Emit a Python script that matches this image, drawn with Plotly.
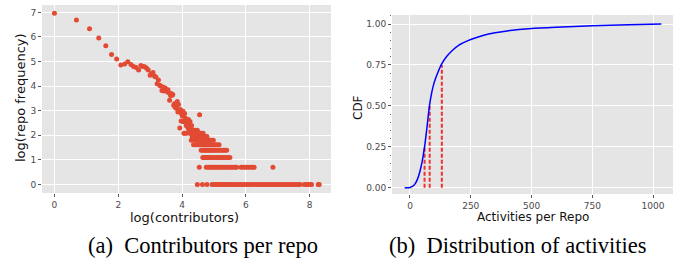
import plotly.graph_objects as go

# ---------------- data: panel (a) ----------------
# upper, distinct points (log(contributors), log(repo frequency))
top_x = [0.00, 0.69, 1.10, 1.39, 1.61, 1.79, 1.95, 2.08, 2.20, 2.30, 2.40, 2.48, 2.56, 2.64,
         2.71, 2.77, 2.83, 2.89, 2.94, 3.00, 3.04, 3.09, 3.14, 3.18, 3.22, 3.26, 3.30, 3.33,
         3.37, 3.40, 3.43, 3.47, 3.50, 3.53, 3.56, 3.58, 3.61, 3.64, 3.66, 3.69, 3.71, 3.74,
         3.76, 3.78, 3.81, 3.83, 3.85, 3.87, 3.89, 3.91, 3.93, 3.95, 3.97, 3.99, 4.01, 4.03,
         4.04, 4.06, 4.08, 4.10, 4.11, 4.13, 4.14, 4.16, 4.17, 4.19, 4.20, 4.22, 4.23, 4.25,
         4.26, 4.28, 4.30, 4.33, 4.41, 4.48, 4.55]
top_y = [6.96, 6.69, 6.33, 5.96, 5.64, 5.29, 5.10, 4.86, 4.90, 4.99, 4.88, 4.80, 4.76, 4.65,
         4.84, 4.80, 4.79, 4.73, 4.65, 4.44, 4.50, 4.55, 4.40, 4.37, 4.10, 4.25, 4.03, 4.00,
         3.82, 3.96, 3.80, 3.92, 3.87, 3.78, 3.85, 3.73, 3.42, 3.62, 3.70, 3.63, 3.66, 3.22,
         3.28, 3.15, 3.10, 3.18, 3.37, 2.95, 3.25, 2.97, 2.30, 3.05, 2.58, 2.85, 2.78, 2.98,
         2.55, 2.08, 2.88, 2.70, 2.64, 2.40, 2.08, 2.56, 2.48, 2.30, 2.64, 2.40, 2.20, 2.56,
         2.08, 2.30, 2.40, 2.20, 2.20, 2.20, 2.83]

# lower rows: repo frequency levels and the contributor values read on each row
row_y8 = 2.079
row_x8 = [4.09, 4.26, 4.34, 4.38, 4.44, 4.51, 4.56, 4.60, 4.66]
row_y7 = 1.946
row_x7 = [4.32, 4.37, 4.42, 4.47, 4.53, 4.58, 4.62, 4.67, 4.72, 4.78]
row_y6 = 1.792
row_x6 = [4.29, 4.39, 4.45, 4.52, 4.56, 4.60, 4.65, 4.70, 4.74, 4.79, 4.84, 4.88, 4.92, 4.98]
row_y5 = 1.609
row_x5 = [4.36, 4.43, 4.50, 4.55, 4.62, 4.66, 4.70, 4.75, 4.80, 4.85, 4.90, 4.95, 5.00,
          5.05, 5.10, 5.16]
row_y4 = 1.386
row_x4 = [4.60, 4.65, 4.70, 4.74, 4.78, 4.82, 4.87, 4.91, 4.95, 5.00, 5.05, 5.10, 5.15,
          5.20, 5.25, 5.30, 5.35, 5.40]
row_y3 = 1.099
row_x3 = [4.65, 4.70, 4.74, 4.78, 4.83, 4.88, 4.93, 4.98, 5.05, 5.10, 5.15, 5.20, 5.25,
          5.30, 5.35, 5.40, 5.45, 5.50]
row_y2 = 0.693
row_x2 = [4.54, 4.76, 4.82, 4.88, 4.94, 5.00, 5.06, 5.12, 5.18, 5.24, 5.30, 5.36, 5.42,
          5.48, 5.54, 5.60, 5.66, 5.71, 5.85, 5.92, 5.99, 6.06, 6.13, 6.20, 6.26, 6.85]
row_y1 = 0.0
row_x1 = [4.48, 4.64, 4.78, 4.94, 5.00, 5.06, 5.12, 5.18, 5.24, 5.30, 5.36, 5.42, 5.48,
          5.55, 5.62, 5.69, 5.76, 5.83, 5.90, 5.97, 6.04, 6.11, 6.18, 6.25, 6.32, 6.39,
          6.46, 6.53, 6.60, 6.67, 6.74, 6.81, 6.88, 6.95, 7.02, 7.09, 7.16, 7.23, 7.30,
          7.37, 7.44, 7.51, 7.58, 7.65, 7.70, 7.83, 7.90, 7.96, 8.02, 8.06, 8.27, 8.30]

# ---------------- data: panel (b) ----------------
act_x = [-22, -10, 0, 10, 20, 30, 40, 50, 60, 70, 80, 90, 100, 115, 130, 150, 175, 200,
         250, 300, 350, 400, 500, 600, 750, 900, 1034]
cdf_y = [0, 0, 0.002, 0.008, 0.022, 0.05, 0.095, 0.16, 0.25, 0.37, 0.5, 0.585, 0.645,
         0.705, 0.755, 0.8, 0.84, 0.87, 0.905, 0.93, 0.947, 0.958, 0.972, 0.98, 0.99,
         0.995, 1.0]
quart_x = [60, 81, 131]
quart_y = [0.25, 0.5, 0.75]

left_xticks = [0, 2, 4, 6, 8]
left_yticks = [0, 1, 2, 3, 4, 5, 6, 7]
right_xticks = [0, 250, 500, 750, 1000]
right_yticks = [0, 0.25, 0.5, 0.75, 1.0]
right_ytext = ["0.00", "0.25", "0.50", "0.75", "1.00"]

# ---------------- build ----------------
W, H = 680, 262
RED = "#E24A33"

sx, sy = list(top_x), list(top_y)
for rx, ry in [(row_x8, row_y8), (row_x7, row_y7), (row_x6, row_y6), (row_x5, row_y5),
               (row_x4, row_y4), (row_x3, row_y3), (row_x2, row_y2), (row_x1, row_y1)]:
    sx += rx
    sy += [ry] * len(rx)

fig = go.Figure()
fig.add_trace(go.Scatter(x=sx, y=sy, mode="markers", xaxis="x", yaxis="y",
                         marker=dict(color=RED, size=5, line=dict(width=0)),
                         showlegend=False))

for qx, qy in zip(quart_x, quart_y):
    fig.add_trace(go.Scatter(x=[qx, qx], y=[0, qy], mode="lines", xaxis="x2", yaxis="y2",
                             line=dict(color="#F03030", width=2, dash="4px,2px"),
                             showlegend=False))
fig.add_trace(go.Scatter(x=act_x, y=cdf_y, mode="lines", xaxis="x2", yaxis="y2",
                         line=dict(color="#0000FF", width=1.5, shape="spline", smoothing=0.6),
                         showlegend=False))

def fx(px):
    return px / W

def fy(py):
    return 1 - py / H

axis_common = dict(showgrid=True, gridcolor="white", gridwidth=1.2, zeroline=False,
                   showline=False, ticks="outside", ticklen=3, tickcolor="#555",
                   tickwidth=1, tickfont=dict(family="DejaVu Sans", size=9, color="#4a4a4a"))

fig.update_layout(
    width=W, height=H,
    margin=dict(l=0, r=0, t=0, b=0),
    paper_bgcolor="white",
    plot_bgcolor="#E5E5E5",
    xaxis=dict(domain=[fx(42), fx(331)], range=[-0.39, 8.67], anchor="y",
               tickvals=left_xticks, **axis_common),
    yaxis=dict(domain=[fy(193), fy(5)], range=[-0.35, 7.30], anchor="x",
               tickvals=left_yticks, **axis_common),
    xaxis2=dict(domain=[fx(392), fx(673)], range=[-74, 1082], anchor="y2",
                tickvals=right_xticks, **axis_common),
    yaxis2=dict(domain=[fy(194), fy(15)], range=[-0.038, 1.055], anchor="x2",
                tickvals=right_yticks, ticktext=right_ytext,
                minor=dict(ticks="outside", ticklen=1, tickcolor="#666", dtick=0.05,
                           showgrid=False),
                **axis_common),
    font=dict(family="DejaVu Sans"),
)

ann = [
    dict(text="log(repo frequency)", x=fx(20), y=fy(98), textangle=-90,
         font=dict(size=13, color="#111")),
    dict(text="log(contributors)", x=fx(185), y=fy(217), font=dict(size=13, color="#111")),
    dict(text="CDF", x=fx(358), y=fy(108), textangle=-90, font=dict(size=12, color="#111")),
    dict(text="Activities per Repo", x=fx(533), y=fy(217), font=dict(size=12, color="#111")),
    dict(text="(a)  Contributors per repo", x=fx(203), y=fy(245),
         font=dict(family="Liberation Serif", size=22.5, color="#000")),
    dict(text="(b)  Distribution of activities", x=fx(517), y=fy(245),
         font=dict(family="Liberation Serif", size=22.5, color="#000")),
]
for a in ann:
    fig.add_annotation(xref="paper", yref="paper", showarrow=False,
                       xanchor="center", yanchor="middle", **a)

fig.write_html("out.html", config={"displayModeBar": False},
               post_script="document.body.style.margin='0';document.body.style.overflow='hidden';")
